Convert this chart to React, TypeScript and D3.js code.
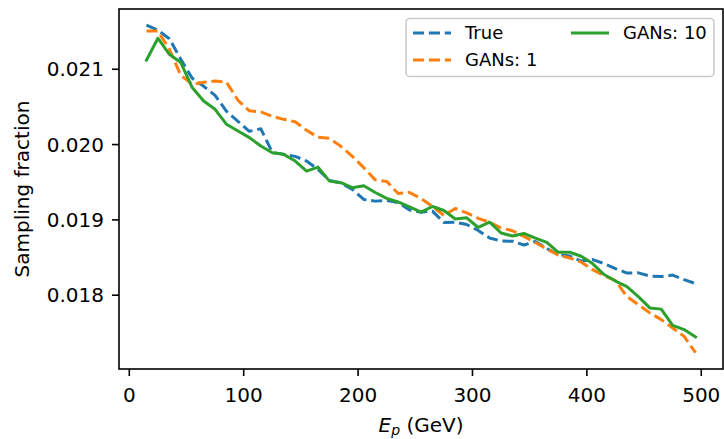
import React from "react";
import * as d3 from "d3";

const energies = [15,25,35,45,55,65,75,85,95,105,115,125,135,145,155,165,175,185,195,205,215,225,235,245,255,265,275,285,295,305,315,325,335,345,355,365,375,385,395,405,415,425,435,445,455,465,475,485,495];

const trueVals = [0.021585,0.021519,0.021406,0.021133,0.020880,0.020774,0.020654,0.020441,0.020309,0.020176,0.020209,0.019896,0.019870,0.019843,0.019781,0.019670,0.019524,0.019491,0.019404,0.019271,0.019249,0.019258,0.019231,0.019132,0.019102,0.019116,0.018965,0.018969,0.018939,0.018859,0.018759,0.018719,0.018717,0.018666,0.018713,0.018620,0.018540,0.018520,0.018453,0.018473,0.018420,0.018354,0.018294,0.018297,0.018254,0.018247,0.018267,0.018207,0.018154];

const gan1Vals = [0.021509,0.021509,0.021266,0.020920,0.020801,0.020827,0.020844,0.020827,0.020588,0.020448,0.020435,0.020375,0.020335,0.020302,0.020189,0.020096,0.020082,0.019976,0.019843,0.019693,0.019531,0.019511,0.019351,0.019364,0.019285,0.019178,0.019059,0.019152,0.019092,0.019021,0.018969,0.018892,0.018856,0.018779,0.018699,0.018613,0.018533,0.018493,0.018440,0.018340,0.018261,0.018194,0.017981,0.017875,0.017765,0.017676,0.017565,0.017453,0.017237];

const gan10Vals = [0.021120,0.021412,0.021199,0.021089,0.020757,0.020578,0.020468,0.020269,0.020180,0.020092,0.019980,0.019892,0.019870,0.019781,0.019648,0.019701,0.019515,0.019493,0.019427,0.019453,0.019364,0.019285,0.019238,0.019172,0.019102,0.019178,0.019125,0.019012,0.019028,0.018899,0.018969,0.018826,0.018786,0.018819,0.018759,0.018702,0.018570,0.018570,0.018517,0.018420,0.018274,0.018188,0.018114,0.017981,0.017831,0.017815,0.017600,0.017543,0.017445];

const xTicks = [0, 100, 200, 300, 400, 500];
const yTicks = [0.018, 0.019, 0.020, 0.021];

const series = [
  { name: "True", values: trueVals, color: "#1f77b4", dashed: true },
  { name: "GANs: 1", values: gan1Vals, color: "#ff7f0e", dashed: true },
  { name: "GANs: 10", values: gan10Vals, color: "#2ca02c", dashed: false },
];

const W = 724, H = 439;
const L = 119, R = 723, T = 9, B = 369;
const FONT = "DejaVu Sans, sans-serif";

export default function App() {
  const x = d3.scaleLinear().domain([-9, 519]).range([L, R]);
  const y = d3.scaleLinear().domain([0.01702, 0.0218]).range([B, T]);
  const line = d3
    .line<number>()
    .x((_, i) => x(energies[i]))
    .y((d) => y(d));

  const legendItems = [
    { s: series[0], hx: 413, ty: 33 },
    { s: series[1], hx: 413, ty: 60 },
    { s: series[2], hx: 571, ty: 33 },
  ];

  return (
    <svg
      width={W}
      height={H}
      style={{ position: "absolute", left: 0, top: 0, background: "#fff" }}
      fontFamily={FONT}
    >
      <rect x={0} y={0} width={W} height={H} fill="#fff" />
      <defs>
        <clipPath id="plotclip">
          <rect x={L} y={T} width={R - L} height={B - T} />
        </clipPath>
      </defs>
      <g clipPath="url(#plotclip)">
        {series.map((s) => (
          <path
            key={s.name}
            d={line(s.values) || ""}
            fill="none"
            stroke={s.color}
            strokeWidth={3}
            strokeDasharray={s.dashed ? "11.1 4.8" : undefined}
            strokeLinejoin="round"
            strokeLinecap={s.dashed ? "butt" : "square"}
          />
        ))}
      </g>
      <rect x={L} y={T} width={R - L} height={B - T} fill="none" stroke="#000" strokeWidth={1.6} />
      {xTicks.map((t) => (
        <g key={t}>
          <line x1={x(t)} x2={x(t)} y1={B} y2={B + 7} stroke="#000" strokeWidth={1.6} />
          <text x={x(t)} y={402} fontSize={20} textAnchor="middle" fill="#000">
            {t}
          </text>
        </g>
      ))}
      {yTicks.map((t) => (
        <g key={t}>
          <line x1={L - 7} x2={L} y1={y(t)} y2={y(t)} stroke="#000" strokeWidth={1.6} />
          <text x={L - 15} y={y(t)} dy="0.36em" fontSize={20} textAnchor="end" fill="#000">
            {t.toFixed(3)}
          </text>
        </g>
      ))}
      <text x={421} y={432} fontSize={20} textAnchor="middle" fill="#000">
        <tspan fontStyle="italic">E</tspan>
        <tspan fontStyle="italic" fontSize={14} dy={3}>p</tspan>
        <tspan dy={-3}> (GeV)</tspan>
      </text>
      <text
        transform={`translate(29, ${(T + B) / 2}) rotate(-90)`}
        fontSize={20}
        textAnchor="middle"
        fill="#000"
      >
        Sampling fraction
      </text>
      <rect x={406} y={18.5} width={308} height={58} rx={4} fill="#fff" fillOpacity={0.8} stroke="#cccccc" strokeWidth={1.6} />
      {legendItems.map(({ s, hx, ty }) => (
        <g key={s.name}>
          <line
            x1={hx}
            x2={hx + 38}
            y1={ty}
            y2={ty}
            stroke={s.color}
            strokeWidth={3}
            strokeDasharray={s.dashed ? "11.1 4.8" : undefined}
          />
          <text x={hx + 52} y={ty} dy="0.36em" fontSize={18} fill="#000">
            {s.name}
          </text>
        </g>
      ))}
    </svg>
  );
}
